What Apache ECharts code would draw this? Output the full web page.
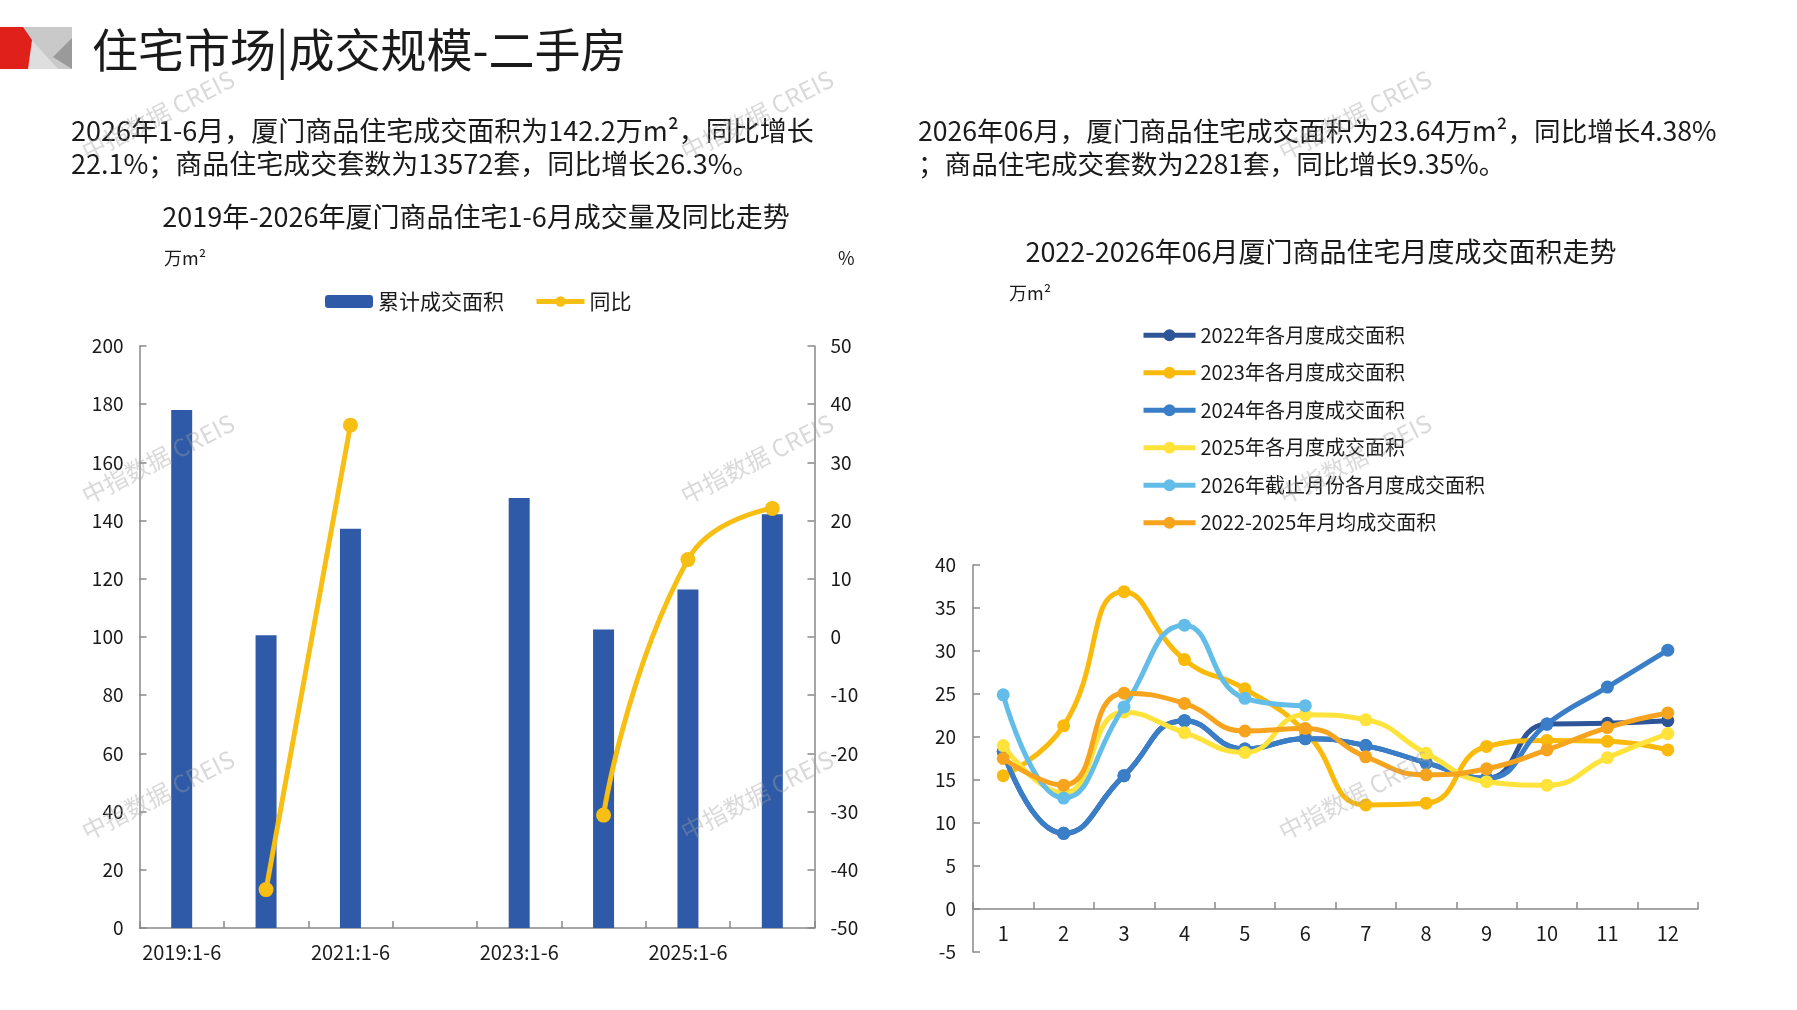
<!DOCTYPE html>
<html>
<head>
<meta charset="utf-8">
<script src="https://cdn.jsdelivr.net/npm/echarts@6/dist/echarts.min.js"></script>
<style>
html,body{margin:0;padding:0;background:#fff;}
#main{width:1797px;height:1010px;}
</style>
</head>
<body>
<div id="main"></div>
<script>
// ---------- data ----------
const h1Categories = ['2019:1-6','2020:1-6','2021:1-6','2022:1-6','2023:1-6','2024:1-6','2025:1-6','2026:1-6'];
const h1Area = [178.0, 100.6, 137.2, null, 147.8, 102.6, 116.3, 142.2];
const h1Yoy = [null, -43.4, 36.4, null, null, -30.6, 13.3, 22.1];

const months = ['1','2','3','4','5','6','7','8','9','10','11','12'];
const area2022 = [18.3, 8.8, 15.5, 21.9, 18.6, 19.8, 19.0, 17.0, 15.2, 21.5, 21.6, 21.9];
const area2023 = [15.5, 21.3, 36.9, 29.0, 25.6, 20.6, 12.1, 12.3, 18.9, 19.6, 19.5, 18.5];
const area2024 = [18.3, 8.8, 15.5, 21.9, 18.6, 19.8, 19.0, 17.0, 15.2, 21.5, 25.8, 30.1];
const area2025 = [19.0, 13.5, 22.9, 20.5, 18.2, 22.6, 22.0, 18.1, 14.8, 14.4, 17.6, 20.4];
const area2026 = [24.9, 12.9, 23.5, 33.0, 24.5, 23.64];
const areaAvg = [17.5, 14.4, 25.1, 23.9, 20.7, 21.0, 17.7, 15.6, 16.3, 18.5, 21.1, 22.8];

const seriesNames = ['2022年各月度成交面积','2023年各月度成交面积','2024年各月度成交面积','2025年各月度成交面积','2026年截止月份各月度成交面积','2022-2025年月均成交面积'];

const monthAxisMin = -5, monthAxisMax = 40, monthAxisStep = 5;

// ---------- style ----------
const FONT = '"Noto Sans CJK SC", "Noto Sans", sans-serif';
const AXIS_COLOR = '#898989';
const TEXT_COLOR = '#1a1a1a';
const colors = ['#2E5597', '#FABA0C', '#3A7EC8', '#FFE23A', '#63BDE8', '#F6A31E'];

function txt(text, x, y, size, opts) {
  opts = opts || {};
  return {
    type: 'text', x: x, y: y, z: opts.z || 10, rotation: opts.rotation || 0,
    style: {
      text: text,
      fill: opts.fill || TEXT_COLOR,
      font: (opts.weight || 'normal') + ' ' + size + 'px ' + FONT,
      textAlign: opts.align || 'left',
      textVerticalAlign: 'middle',
      verticalAlign: 'middle'
    }
  };
}

const graphics = [
  // logo
  { type: 'polygon', shape: { points: [[0,27],[72,27],[72,69],[0,69]] }, style: { fill: '#C9C9C9' } },
  { type: 'polygon', shape: { points: [[30,38],[58,69],[26,69]] }, style: { fill: '#DEDEDE' } },
  { type: 'polygon', shape: { points: [[72,38],[53,57],[72,69]] }, style: { fill: '#9A9A9A' } },
  { type: 'polygon', shape: { points: [[0,27],[23,27],[32,40],[28,69],[0,69]] }, style: { fill: '#E0201B' } },
  // headline
  txt('住宅市场|成交规模-二手房', 92, 50, 46),
  // paragraphs
  txt('2026年1-6月，厦门商品住宅成交面积为142.2万m²，同比增长', 71, 131, 27),
  txt('22.1%；商品住宅成交套数为13572套，同比增长26.3%。', 71, 164, 27),
  txt('2026年06月，厦门商品住宅成交面积为23.64万m²，同比增长4.38%', 918, 131, 26.6),
  txt('；商品住宅成交套数为2281套，同比增长9.35%。', 918, 164, 26.6),
  // chart titles
  txt('2019年-2026年厦门商品住宅1-6月成交量及同比走势', 476, 217, 27, { align: 'center' }),
  txt('2022-2026年06月厦门商品住宅月度成交面积走势', 1321, 252, 27, { align: 'center' }),
  // unit labels
  txt('万m²', 164, 258, 18),
  txt('%', 838, 258, 18),
  txt('万m²', 1009, 293, 18)
];

// watermarks
const wmX = [158, 757, 1355];
const wmY = [115, 459, 795];
wmY.forEach(function (y) {
  wmX.forEach(function (x) {
    graphics.push(txt('中指数据 CREIS', x, y, 24, { align: 'center', rotation: 0.47, fill: 'rgba(160,160,160,0.4)', z: 100 }));
  });
});

const chart = echarts.init(document.getElementById('main'));

const axisLabelStyle = { color: TEXT_COLOR, fontFamily: FONT, fontSize: 19 };
const axisLineStyle = { show: true, lineStyle: { color: AXIS_COLOR, width: 1.5 } };
const tickStyle = { show: true, inside: true, length: 7, lineStyle: { color: AXIS_COLOR, width: 1.5 } };

const grid2Height = 387;
// place the month axis at value 0 of the value axis
const monthAxisOffset = -grid2Height * (0 - monthAxisMin) / (monthAxisMax - monthAxisMin);

function lineSeries(name, data, color, z) {
  return {
    name: name, type: 'line', xAxisIndex: 1, yAxisIndex: 2,
    data: data, smooth: true, symbol: 'circle', symbolSize: 13, z: z,
    itemStyle: { color: color },
    lineStyle: { color: color, width: 5 },
    emphasis: { disabled: true }
  };
}

const option = {
  animation: false,
  backgroundColor: '#ffffff',
  textStyle: { fontFamily: FONT },
  graphic: { elements: graphics },
  legend: [
    {
      data: ['累计成交面积', '同比'],
      left: 325, top: 291, orient: 'horizontal', padding: 0,
      itemWidth: 48, itemHeight: 13, itemGap: 30,
      lineStyle: { width: 5 },
      textStyle: { color: TEXT_COLOR, fontSize: 21, fontFamily: FONT }
    },
    {
      data: seriesNames,
      left: 1141, top: 325, orient: 'vertical', padding: 0,
      itemWidth: 52, itemHeight: 15, itemGap: 17,
      lineStyle: { width: 5 },
      textStyle: { color: TEXT_COLOR, fontSize: 20, fontFamily: FONT, lineHeight: 20.5 }
    }
  ],
  grid: [
    { left: 139.5, top: 346, width: 675, height: 582, containLabel: false },
    { left: 973, top: 565, width: 725, height: grid2Height, containLabel: false }
  ],
  xAxis: [
    {
      type: 'category', gridIndex: 0, data: h1Categories, boundaryGap: true,
      axisLine: axisLineStyle,
      axisTick: Object.assign({ interval: 0 }, tickStyle),
      axisLabel: Object.assign({ interval: 1, margin: 14 }, axisLabelStyle, { fontSize: 20 })
    },
    {
      type: 'category', gridIndex: 1, data: months, boundaryGap: true,
      offset: monthAxisOffset,
      axisLine: Object.assign({}, axisLineStyle, { onZero: false }),
      axisTick: Object.assign({ interval: 0 }, tickStyle),
      axisLabel: Object.assign({ interval: 0, margin: 14 }, axisLabelStyle, { fontSize: 20 })
    }
  ],
  yAxis: [
    {
      type: 'value', gridIndex: 0, min: 0, max: 200, interval: 20, position: 'left',
      axisLine: axisLineStyle, axisTick: tickStyle, splitLine: { show: false },
      axisLabel: Object.assign({ margin: 16 }, axisLabelStyle)
    },
    {
      type: 'value', gridIndex: 0, min: -50, max: 50, interval: 10, position: 'right',
      axisLine: axisLineStyle, axisTick: tickStyle, splitLine: { show: false },
      axisLabel: Object.assign({ margin: 16 }, axisLabelStyle)
    },
    {
      type: 'value', gridIndex: 1, min: monthAxisMin, max: monthAxisMax, interval: monthAxisStep, position: 'left',
      axisLine: axisLineStyle, axisTick: tickStyle, splitLine: { show: false },
      axisLabel: Object.assign({ margin: 17 }, axisLabelStyle)
    }
  ],
  series: [
    {
      name: '累计成交面积', type: 'bar', xAxisIndex: 0, yAxisIndex: 0,
      data: h1Area, barWidth: 21, z: 2,
      itemStyle: { color: '#2E5AA7' }, emphasis: { disabled: true }
    },
    {
      name: '同比', type: 'line', xAxisIndex: 0, yAxisIndex: 1,
      data: h1Yoy, smooth: true, symbol: 'circle', symbolSize: 15, z: 3,
      connectNulls: false,
      itemStyle: { color: '#F7BE13' }, lineStyle: { color: '#F7BE13', width: 5 },
      emphasis: { disabled: true }
    },
    lineSeries(seriesNames[0], area2022, colors[0], 3),
    lineSeries(seriesNames[1], area2023, colors[1], 4),
    lineSeries(seriesNames[2], area2024, colors[2], 5),
    lineSeries(seriesNames[3], area2025, colors[3], 6),
    lineSeries(seriesNames[4], area2026, colors[4], 7),
    lineSeries(seriesNames[5], areaAvg, colors[5], 8)
  ]
};

chart.setOption(option);
</script>
</body>
</html>
